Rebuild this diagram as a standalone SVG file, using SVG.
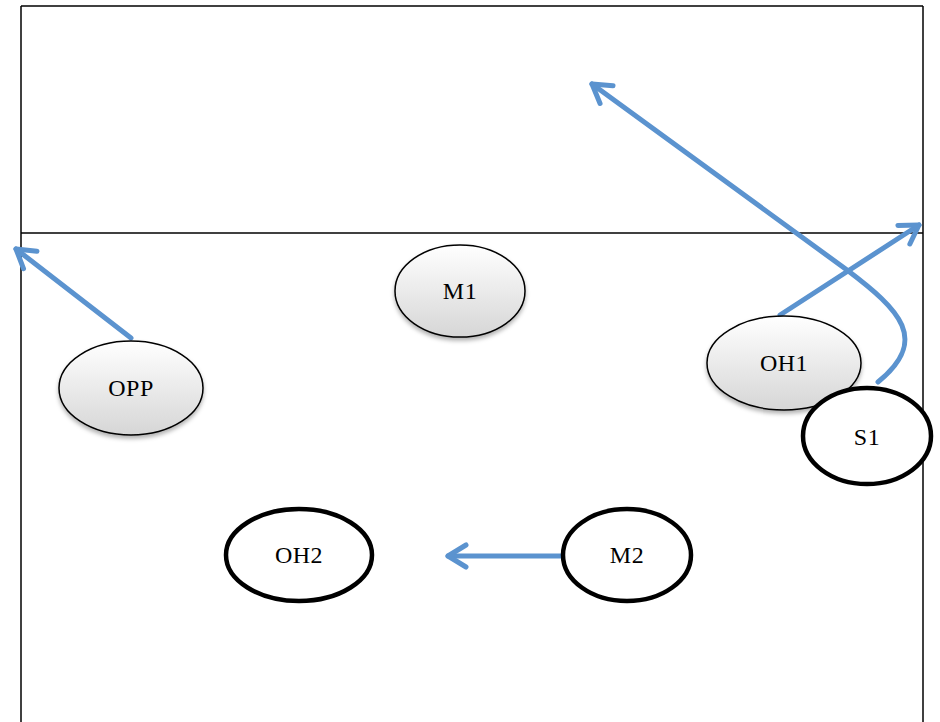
<svg xmlns="http://www.w3.org/2000/svg" width="940" height="722" viewBox="0 0 940 722">
<style>
.court{fill:none;stroke:#000;stroke-width:1.5}
.g{fill:url(#grad);stroke:#000;stroke-width:1.5;filter:url(#sh)}
.w{fill:#fff;stroke:#000;stroke-width:4.5}
.t{font-family:"Liberation Serif","DejaVu Serif",serif;font-size:24px;letter-spacing:0.5px;text-anchor:middle;fill:#000}
.a{fill:none;stroke:#5b93cf;stroke-width:5;stroke-linecap:round;marker-end:url(#ah)}
</style>
<defs>
<linearGradient id="grad" x1="0" y1="0" x2="0" y2="1">
<stop offset="0" stop-color="#ffffff"/>
<stop offset="1" stop-color="#d6d6d6"/>
</linearGradient>
<filter id="sh" x="-20%" y="-20%" width="140%" height="150%">
<feDropShadow dx="0" dy="3" stdDeviation="2" flood-color="#000" flood-opacity="0.3"/>
</filter>
<marker id="ah" markerUnits="userSpaceOnUse" viewBox="-22 -14 26 28" markerWidth="26" markerHeight="28" refX="0" refY="0" orient="auto">
<path d="M-18,-11 L0,0 L-18,11" fill="none" stroke="#5b93cf" stroke-width="5" stroke-linecap="round" stroke-linejoin="round"/>
</marker>
</defs>
<g id="court">
<line class="court" x1="21" y1="6" x2="923" y2="6"/>
<line class="court" x1="21" y1="6" x2="21" y2="722"/>
<line class="court" x1="923" y1="6" x2="923" y2="722"/>
<line class="court" x1="21" y1="233" x2="923" y2="233"/>
</g>
<g id="connectors">
<path class="a" d="M131,338 L16,249"/>
<path class="a" d="M780,315 L919,225"/>
<path class="a" d="M878,382 C930,340 900,310 847,270 L592,84"/>
<path class="a" d="M562,556 L448,556"/>
</g>
<g id="OPP"><ellipse class="g" cx="131" cy="388" rx="72" ry="47"/><text class="t" x="131" y="396">OPP</text></g>
<g id="M1"><ellipse class="g" cx="460" cy="291" rx="65" ry="46"/><text class="t" x="460" y="299">M1</text></g>
<g id="OH1"><ellipse class="g" cx="784" cy="363" rx="77" ry="47"/><text class="t" x="784" y="371">OH1</text></g>
<g id="S1"><ellipse class="w" cx="867" cy="436" rx="64" ry="48"/><text class="t" x="867" y="445">S1</text></g>
<g id="OH2"><ellipse class="w" cx="299" cy="555" rx="73" ry="46"/><text class="t" x="299" y="563">OH2</text></g>
<g id="M2"><ellipse class="w" cx="627" cy="555" rx="64" ry="46"/><text class="t" x="627" y="563">M2</text></g>
</svg>
